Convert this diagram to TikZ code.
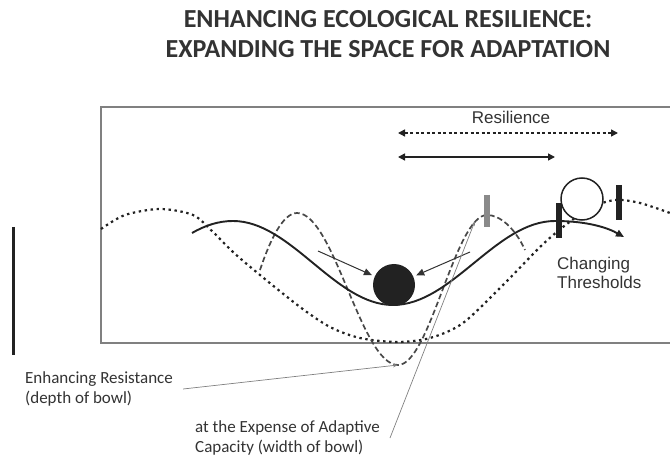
\documentclass[tikz,border=0pt]{standalone}
\usepackage{fontspec}
\setmainfont{Carlito}
\newfontfamily\arialfont{Liberation Sans}
\usetikzlibrary{arrows.meta}

\definecolor{ink}{HTML}{222222}
\definecolor{textgray}{HTML}{333333}
\definecolor{midgray}{HTML}{484848}
\definecolor{bargray}{HTML}{8A8A8A}
\definecolor{framegray}{HTML}{808080}

\begin{document}
\begin{tikzpicture}[x=1pt, y=-1pt,
    solidcurve/.style={ink, line width=1.9pt},
    dotcurve/.style={ink, line width=2.2pt, dash pattern=on 2.4pt off 3.6pt},
    dashcurve/.style={midgray, line width=1.7pt, dash pattern=on 5.5pt off 3pt},
    leader/.style={framegray, line width=0.7pt, -{Stealth[length=5pt,width=3.5pt]}},
    pointer/.style={textgray, line width=1pt, -{Triangle[length=8pt,width=7pt]}, shorten >=3pt},
    endarrow/.style={-{Triangle[length=8pt,width=7pt]}},
    twoway/.style={{Triangle[length=7pt,width=7pt]}-{Triangle[length=7pt,width=7pt]}},
    markbar/.style={line width=5.5pt},
    note/.style={textgray, align=left, inner xsep=10pt, inner ysep=0pt, font=\fontsize{17}{20}\selectfont},
    sansnote/.style={textgray, align=left, inner sep=0pt, font=\arialfont\fontsize{17}{19}\selectfont}
]

    \useasboundingbox (0,0) rectangle (670,457);

    % points on the curves
    \coordinate (S1) at (192,233);
    \coordinate (S2) at (233,221);
    \coordinate (S3) at (393,305);
    \coordinate (S4) at (555,221);
    \coordinate (S5) at (624,237);

    \coordinate (B1) at (260,270);
    \coordinate (B2) at (297,213);
    \coordinate (B3) at (398,365);
    \coordinate (B4) at (487,215);
    \coordinate (B5) at (525,250);

    \coordinate (R1) at (398,133);
    \coordinate (R2) at (618,133);
    \coordinate (R3) at (398,157);
    \coordinate (R4) at (555,157);

    \coordinate (P1) at (318,251);
    \coordinate (P2) at (470,252);
    \coordinate (A1) at (475,221);

    % title
    \node[textgray, align=center, inner sep=0pt, anchor=north,
          font=\fontsize{26}{30}\selectfont\bfseries] (title) at (388,10)
        {ENHANCING ECOLOGICAL RESILIENCE:\\EXPANDING THE SPACE FOR ADAPTATION};

    % frame and side bar
    \draw[framegray, line width=1.2pt] (670,107) -- (101,107) -- (101,343) -- (670,343);
    \draw[ink, line width=3pt] (13,227) -- (13,355);

    % landscapes
    \draw[dotcurve] plot[smooth] coordinates {(101,229) (125,215) (160,209) (193,215)
        (213,232) (233,252) (260,275) (300,307) (330,327) (360,338) (397,342)
        (430,338) (463,323) (505,283) (540,247) (563,227) (590,208) (615,200)
        (640,203) (670,213)};

    \draw[dashcurve] (B1) .. controls (270,240) and (283,213) .. (B2)
        .. controls (334,213) and (361,365) .. (B3)
        .. controls (430,365) and (455,215) .. (B4)
        .. controls (500,215) and (515,228) .. (B5);

    \draw[solidcurve, endarrow] (S1) .. controls (206,225) and (219,221) .. (S2)
        .. controls (291,221) and (335,305) .. (S3)
        .. controls (452,305) and (496,221) .. (S4)
        .. controls (588,221) and (608,228) .. (S5);

    % ball, ring and thresholds
    \node[circle, fill=ink, minimum size=42pt, inner sep=0pt] (ball) at (394,285) {};
    \node[circle, draw=ink, fill=white, line width=1.5pt, minimum size=42pt, inner sep=0pt] (ring) at (582,199) {};

    \draw[markbar, bargray] (487,195) -- (487,227);
    \draw[markbar, ink] (559,203) -- (559,238);
    \draw[markbar, ink] (619,185) -- (619,220);

    \draw[pointer] (P1) -- (ball);
    \draw[pointer] (P2) -- (ball);

    % resilience span
    \node[sansnote, anchor=base] (resil) at (511,124) {Resilience};
    \draw[twoway, ink, line width=1.4pt, dash pattern=on 3pt off 2.5pt] (R1) -- (R2);
    \draw[twoway, ink, line width=1.4pt] (R3) -- (R4);

    \node[sansnote, anchor=north west] (thresh) at (557,257) {Changing\\Thresholds};

    % labels below
    \node[note, anchor=west] (resist) at (15,389) {Enhancing Resistance\\(depth of bowl)};
    \node[note, anchor=west] (expense) at (185,438) {at the Expense of Adaptive\\Capacity (width of bowl)};

    \draw[leader] (resist.east) -- (B3);
    \draw[leader] (expense.east) -- (A1);

\end{tikzpicture}
\end{document}
